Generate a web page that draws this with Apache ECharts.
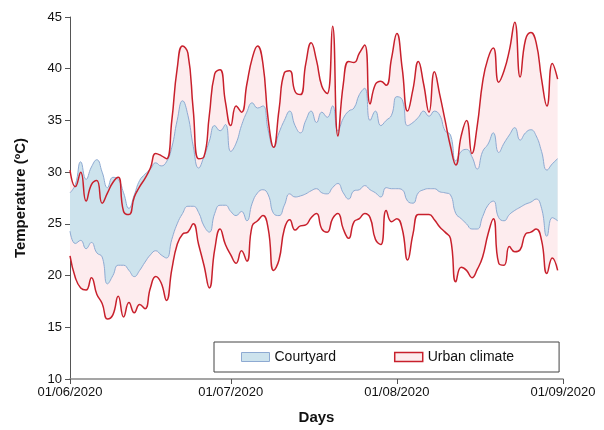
<!DOCTYPE html>
<html>
<head>
<meta charset="utf-8">
<script src="https://cdn.jsdelivr.net/npm/echarts@6/dist/echarts.min.js"></script>
<style>
    html, body { margin: 0; padding: 0; background: #fff; }
    #chart { width: 604px; height: 430px; }
</style>
</head>
<body>
<div id="chart"></div>
<script>
// daily values, 01/06/2020 .. 31/08/2020
const urbanMax = [
    30.2, 28.6, 30.0, 27.2, 28.8, 29.2, 27.0, 28.0, 29.0, 29.5,
    26.2, 25.9, 27.6, 28.6, 29.4, 30.4, 31.8, 31.6, 31.3, 35.0,
    40.0, 42.2, 41.5, 36.0, 31.3, 31.5, 35.5, 39.5, 39.9, 36.8,
    34.5, 36.4, 35.8, 38.5, 41.0, 42.2, 40.5, 35.0, 32.4, 36.0,
    39.6, 39.8, 37.8, 37.5, 40.5, 42.5, 40.8, 38.3, 37.6, 44.1,
    33.5, 38.5, 40.7, 40.6, 41.5, 42.3, 36.6, 38.5, 38.8, 38.4,
    41.0, 43.4, 40.0, 35.9, 38.0, 40.7, 38.5, 35.8, 39.7, 37.5,
    35.0, 32.5, 30.7, 33.5, 35.0, 31.8, 34.5, 38.7, 41.0, 42.0,
    38.7, 39.8, 41.8, 44.5, 39.2, 42.8, 43.5, 42.5, 39.0, 36.4,
    40.5, 39.0
];
const urbanMin = [
    21.9, 19.8, 18.8, 18.6, 19.8, 18.2, 17.3, 15.8, 16.2, 18.0,
    16.0, 17.4, 16.4, 17.2, 16.8, 18.8, 19.9, 19.3, 17.6, 20.6,
    23.0, 24.0, 24.2, 25.0, 23.0, 21.0, 18.8, 22.5, 24.5, 23.0,
    22.0, 21.2, 22.4, 21.4, 24.8, 25.3, 25.8, 24.5, 20.5, 21.5,
    24.5, 25.4, 24.4, 24.8, 24.9, 25.6, 26.0, 24.5, 24.2, 25.5,
    26.0, 24.5, 23.6, 25.2, 25.5, 26.0, 25.6, 23.5, 23.0, 26.3,
    25.2, 25.5, 24.5, 21.5, 24.0, 25.9, 25.9, 25.9, 25.4, 24.7,
    24.2, 23.6, 19.4, 20.8, 20.5, 19.8, 20.6, 21.8, 24.0, 25.5,
    21.2, 21.0, 22.8, 22.3, 22.5, 24.0, 24.2, 24.5, 23.4, 20.2,
    21.7, 20.5
];
const courtyardMax = [
    28.0, 28.8, 31.0, 29.3, 30.5, 31.2, 30.0, 28.5, 29.5, 29.3,
    28.0, 26.5, 27.8, 29.2, 29.8, 30.3, 30.9, 30.6, 31.0, 32.4,
    35.0, 36.9, 35.5, 32.5, 30.4, 31.5, 33.0, 34.5, 34.0, 34.6,
    32.0, 32.8, 34.5, 35.8, 36.7, 36.2, 36.4, 34.0, 32.4, 33.8,
    35.0, 35.9, 34.5, 33.8, 35.0, 35.9, 34.8, 35.8, 35.3, 36.4,
    34.0, 35.2, 35.9, 36.2, 37.5, 38.1, 35.0, 35.9, 34.5, 35.0,
    35.5, 37.3, 37.0, 34.5, 34.8, 35.3, 35.9, 35.4, 35.9, 35.5,
    34.0, 33.6, 31.1, 32.0, 32.2, 31.5, 30.3, 32.0, 32.7, 33.8,
    31.9, 32.8, 33.6, 34.3, 33.1, 33.8, 34.1, 33.5, 32.0, 30.2,
    30.8, 31.3
];
const courtyardMin = [
    24.3, 23.1, 23.4, 22.6, 23.2, 22.2, 21.8, 19.2, 20.0, 21.0,
    21.0, 20.5, 19.9, 20.5, 21.3, 22.0, 22.4, 22.0, 21.7, 23.5,
    25.0, 26.0, 26.7, 26.7, 26.1, 24.8, 24.2, 26.0, 26.8, 26.8,
    26.2, 25.8, 26.2, 25.3, 27.0, 28.0, 28.3, 27.8, 26.0, 25.8,
    26.8, 27.9, 27.6, 27.7, 27.9, 28.2, 28.4, 28.0, 27.9, 28.5,
    28.9, 28.0, 27.4, 28.2, 28.3, 28.7, 28.3, 28.0, 27.6, 28.5,
    28.4, 28.4, 28.3, 27.2, 27.0, 28.0, 28.3, 28.4, 28.4, 28.1,
    28.0, 27.8, 26.0, 25.5, 25.0, 24.5, 24.5, 25.7, 26.8, 27.2,
    25.6, 25.3, 25.9, 26.3, 26.6, 26.9, 27.1, 27.4, 26.5, 23.8,
    25.6, 25.3
];
const tickLabels = ['01/06/2020', '01/07/2020', '01/08/2020', '01/09/2020'];

// x categories: one per day, 01/06/2020 .. 01/09/2020
const days = [];
const pad = (n) => (n < 10 ? '0' : '') + n;
for (let d = new Date(Date.UTC(2020, 5, 1)); d <= new Date(Date.UTC(2020, 8, 1)); d.setUTCDate(d.getUTCDate() + 1)) {
    days.push(pad(d.getUTCDate()) + '/' + pad(d.getUTCMonth() + 1) + '/' + d.getUTCFullYear());
}

const RED = '#c8202c';
const RED_FILL = '#fdecee';
const BLUE = '#8eaad2';
const BLUE_FILL = '#cde3ed';

const diff = (hi, lo) => hi.map((v, i) => +(v - lo[i]).toFixed(2));
const isTick = (idx, val) => tickLabels.indexOf(val) >= 0;

const chart = echarts.init(document.getElementById('chart'));
chart.setOption({
    animation: false,
    backgroundColor: '#fff',
    textStyle: { fontFamily: 'Liberation Sans, Arial, sans-serif' },
    grid: { left: 70, right: 41, top: 17, bottom: 44 },
    legend: {
        left: 214,
        top: 342,
        padding: [7, 45, 7, 27],
        borderColor: '#444',
        borderWidth: 1,
        backgroundColor: '#fff',
        itemWidth: 28,
        itemHeight: 9,
        itemGap: 58,
        selectedMode: false,
        textStyle: { fontSize: 14, color: '#111', lineHeight: 16 },
        data: [
            { name: 'Courtyard', icon: 'rect', itemStyle: { color: BLUE_FILL, borderColor: BLUE, borderWidth: 1 } },
            { name: 'Urban climate', icon: 'rect', itemStyle: { color: RED_FILL, borderColor: RED, borderWidth: 1.5 } }
        ]
    },
    xAxis: {
        type: 'category',
        data: days,
        boundaryGap: false,
        name: 'Days',
        nameLocation: 'middle',
        nameGap: 31,
        nameTextStyle: { fontSize: 15, fontWeight: 'bold', color: '#111' },
        axisLine: { lineStyle: { color: '#888', width: 1.5 } },
        axisTick: { interval: isTick, length: 5, lineStyle: { color: '#555' } },
        axisLabel: { interval: isTick, fontSize: 13, color: '#111', margin: 7 },
        splitLine: { show: false }
    },
    yAxis: {
        type: 'value',
        min: 10,
        max: 45,
        interval: 5,
        name: 'Temperature (ºC)',
        nameLocation: 'middle',
        nameGap: 42,
        nameTextStyle: { fontSize: 15, fontWeight: 'bold', color: '#111' },
        axisLine: { show: true, lineStyle: { color: '#555', width: 1 } },
        axisTick: { show: true, length: 5, lineStyle: { color: '#555' } },
        axisLabel: { fontSize: 13, color: '#111', margin: 8 },
        splitLine: { show: false }
    },
    series: [
        // urban band fill
        {
            name: 'Urban climate', type: 'line', stack: 'urban', data: urbanMin,
            smooth: true, symbol: 'none', lineStyle: { width: 0, opacity: 0 }
        },
        {
            name: 'Urban climate', type: 'line', stack: 'urban', data: diff(urbanMax, urbanMin),
            smooth: true, symbol: 'none', lineStyle: { width: 0, opacity: 0 },
            areaStyle: { color: RED_FILL, opacity: 1 }
        },
        // courtyard band
        {
            name: 'Courtyard', type: 'line', stack: 'court', data: courtyardMin,
            smooth: true, symbol: 'none', lineStyle: { color: BLUE, width: 1 }
        },
        {
            name: 'Courtyard', type: 'line', stack: 'court', data: diff(courtyardMax, courtyardMin),
            smooth: true, symbol: 'none', lineStyle: { color: BLUE, width: 1 },
            areaStyle: { color: BLUE_FILL, opacity: 1 }
        },
        // urban outlines on top
        {
            name: 'Urban climate', type: 'line', data: urbanMax,
            smooth: true, symbol: 'none', lineStyle: { color: RED, width: 1.5 }
        },
        {
            name: 'Urban climate', type: 'line', data: urbanMin,
            smooth: true, symbol: 'none', lineStyle: { color: RED, width: 1.5 }
        }
    ]
});
</script>
</body>
</html>
